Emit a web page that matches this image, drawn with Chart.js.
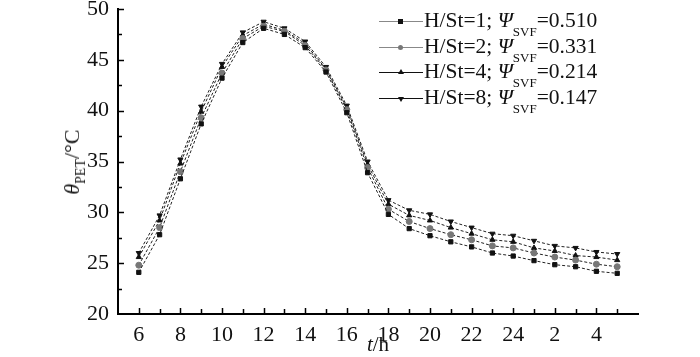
<!DOCTYPE html>
<html>
<head>
<meta charset="utf-8">
<script src="https://cdn.jsdelivr.net/npm/chart.js@4"></script>
<style>
html,body{margin:0;padding:0;background:#fff;}
#wrap{position:relative;width:700px;height:357px;font-family:"Liberation Serif","DejaVu Serif",serif;color:#111;}
canvas{position:absolute;left:0;top:0;}
.leg{position:absolute;left:379px;top:8px;font-size:21.5px;line-height:25.7px;white-space:nowrap;}
.row{position:relative;height:25.7px;}
.seg{position:absolute;left:0;top:13px;width:44px;height:0;border-top:1.5px solid #000;}
.mk{position:absolute;left:19px;top:10px;width:6px;height:6px;}
.txt{position:absolute;left:45px;top:0;}
.sub{font-size:13px;position:relative;top:9px;}
.it{font-style:italic;}
#ytitle{position:absolute;left:72px;top:162px;transform:translate(-50%,-50%) rotate(-90deg);font-size:22px;white-space:nowrap;}
#xtitle{position:absolute;left:378px;top:332px;transform:translateX(-50%);font-size:21px;white-space:nowrap;}
</style>
</head>
<body>
<div id="wrap">
<canvas id="c" width="700" height="357"></canvas>
<div id="ytitle"><span class="it">θ</span><span class="sub" style="font-size:14px;top:6px;">PET</span>/°C</div>
<div id="xtitle"><span class="it">t</span>/h</div>
<div class="leg" id="leg"></div>
</div>
<script>
// hour of day for each observation (6:00 through 5:00 next day)
const hours = [6,7,8,9,10,11,12,13,14,15,16,17,18,19,20,21,22,23,24,1,2,3,4,5];
const seriesNames = ["H/St=1", "H/St=2", "H/St=4", "H/St=8"];
const svfValues = ["0.510", "0.331", "0.214", "0.147"];
const s1 = [24.1,27.8,33.3,38.7,43.2,46.7,48.1,47.5,46.2,43.8,39.8,33.9,29.8,28.4,27.7,27.1,26.6,26.0,25.7,25.25,24.85,24.65,24.2,24.0];
const s2 = [24.8,28.5,34.0,39.3,43.7,47.1,48.3,47.8,46.4,44.0,40.1,34.4,30.3,29.1,28.4,27.8,27.3,26.7,26.5,26.0,25.6,25.3,24.9,24.65];
const s3 = [25.6,29.2,34.8,39.9,44.3,47.4,48.5,47.9,46.6,44.1,40.3,34.7,30.8,29.7,29.2,28.5,27.9,27.3,27.1,26.5,26.2,25.75,25.6,25.3];
const s4 = [26.0,29.7,35.2,40.4,44.6,47.7,48.75,48.1,46.8,44.3,40.5,35.0,31.2,30.2,29.8,29.1,28.5,27.9,27.7,27.2,26.7,26.5,26.1,25.9];
const yTickValues = [20,25,30,35,40,45,50];

const seriesValues = [s1,s2,s3,s4];
const styles = [
  {pointStyle:'rect', color:'#111', rot:0, leg:'#888'},
  {pointStyle:'circle', color:'#777', rot:0, leg:'#888'},
  {pointStyle:'triangle', color:'#111', rot:0, leg:'#111'},
  {pointStyle:'triangle', color:'#111', rot:180, leg:'#111'}
];
// continuous hour position (hours after midnight of day 1)
const xPos = hours.map((h,i)=> (h < hours[0] ? h+24 : h));

const datasets = seriesValues.map((vals,k)=>({
  label: seriesNames[k],
  data: vals.map((v,i)=>({x:xPos[i], y:v})),
  borderColor:'#222',
  borderWidth:1,
  borderDash:[3,2],
  pointStyle: styles[k].pointStyle,
  rotation: styles[k].rot,
  pointRadius: 3,
  pointBackgroundColor: styles[k].color,
  pointBorderColor: styles[k].color,
  pointBorderWidth:1,
  tension:0
}));

function drawInward(chart){
  const ctx = chart.ctx;
  const xs = chart.scales.x, ys = chart.scales.y;
  const bottom = chart.chartArea.bottom, left = chart.chartArea.left;
  ctx.save();
  ctx.setLineDash([]);
  ctx.strokeStyle='#000';
  ctx.lineWidth=1.5;
  for (let v = 6; v <= 29; v += 1) {
    const px = Math.round(xs.getPixelForValue(v)) + 0.5;
    const len = (v%2===0)?6:5;
    ctx.beginPath(); ctx.moveTo(px, bottom); ctx.lineTo(px, bottom-len); ctx.stroke();
  }
  for (let v = 22.5; v <= 50; v += 2.5) {
    const py = Math.round(ys.getPixelForValue(v)) + 0.5;
    const len = (v%5===0)?6:4;
    ctx.beginPath(); ctx.moveTo(left, py); ctx.lineTo(left+len, py); ctx.stroke();
  }
  ctx.restore();
}
const inwardTicks = { id:'inwardTicks', afterDraw(chart){ drawInward(chart); } };

const chart = new Chart(document.getElementById('c'), {
  type:'line',
  data:{datasets},
  options:{
    responsive:false,
    animation:false,
    layout:{autoPadding:false, padding:{top:9,right:62,left:0,bottom:0}},
    plugins:{legend:{display:false},tooltip:{enabled:false}},
    scales:{
      x:{
        type:'linear', min:5, max:30,
        afterFit(s){ s.height = 43; s.paddingLeft = 0; s.paddingRight = 0; },
        grid:{display:false},
        border:{display:true,color:'#000',width:2},
        ticks:{
          stepSize:1, autoSkip:false, maxRotation:0, padding:0,
          color:'#111', font:{family:'"Liberation Serif", serif', size:22},
          callback:(v)=>{ if (v%2!==0 || v<6 || v>28) return ''; return String(v>24? v-24 : v); }
        }
      },
      y:{
        min:yTickValues[0], max:yTickValues[yTickValues.length-1],
        afterFit(s){ s.width = 118; s.paddingTop = 0; s.paddingBottom = 0; },
        grid:{display:false},
        border:{display:true,color:'#000',width:2},
        ticks:{
          stepSize:2.5, autoSkip:false, padding:1,
          color:'#111', font:{family:'"Liberation Serif", serif', size:22, lineHeight:0.6},
          callback:(v)=> yTickValues.includes(v) ? String(v) : ''
        }
      }
    }
  },
  plugins:[inwardTicks]
});

// legend built from the series arrays
const leg = document.getElementById('leg');
seriesNames.forEach((n,k)=>{
  const row = document.createElement('div'); row.className='row';
  const seg = document.createElement('div'); seg.className='seg'; seg.style.borderTopColor = styles[k].leg;
  const mk = document.createElement('div'); mk.className='mk';
  const st = styles[k];
  if (st.pointStyle==='rect'){ mk.style.background=st.color; mk.style.width='5px'; mk.style.height='5px'; mk.style.top='11px';}
  else if (st.pointStyle==='circle'){ mk.style.background=st.color; mk.style.borderRadius='50%'; mk.style.width='5px'; mk.style.height='5px'; mk.style.top='11px';}
  else { mk.style.width='0'; mk.style.height='0'; mk.style.borderLeft='3px solid transparent'; mk.style.borderRight='3px solid transparent';
    if (st.rot===0){ mk.style.borderBottom='5px solid '+st.color; mk.style.top='10px'; } else { mk.style.borderTop='5px solid '+st.color; mk.style.top='12px'; } }
  const txt = document.createElement('div'); txt.className='txt';
  txt.innerHTML = n + '; <span class="it">Ψ</span><span class="sub">SVF</span>=' + svfValues[k];
  row.appendChild(seg); row.appendChild(mk); row.appendChild(txt);
  leg.appendChild(row);
});
</script>
</body>
</html>
